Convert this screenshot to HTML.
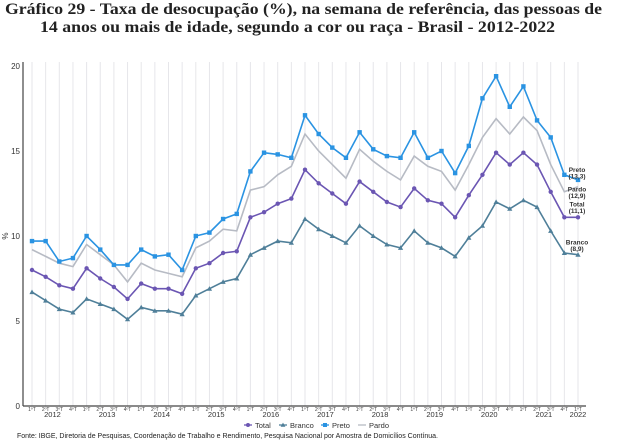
<!DOCTYPE html>
<html><head><meta charset="utf-8">
<style>
body{margin:0;background:#fff;width:635px;height:448px;overflow:hidden;font-family:"Liberation Sans",sans-serif}
</style></head><body>
<svg id="c" width="635" height="448" style="position:absolute;left:0;top:0">
<text x="5" y="14" textLength="597" lengthAdjust="spacingAndGlyphs" font-family="Liberation Serif, serif" font-weight="bold" font-size="16" fill="#222">Gráfico 29 - Taxa de desocupação (%), na semana de referência, das pessoas de</text>
<text x="40" y="32" textLength="515" lengthAdjust="spacingAndGlyphs" font-family="Liberation Serif, serif" font-weight="bold" font-size="16" fill="#222">14 anos ou mais de idade, segundo a cor ou raça - Brasil - 2012-2022</text>
</svg>
<script>
const years=["2012","2013","2014","2015","2016","2017","2018","2019","2020","2021","2022"];
const quarterLabels=["1ºT","2ºT","3ºT","4ºT"];
const yTicks=[0,5,10,15,20];
const total=[8.0,7.6,7.1,6.9,8.1,7.5,7.0,6.3,7.2,6.9,6.9,6.6,8.1,8.4,9.0,9.1,11.1,11.4,11.9,12.2,13.9,13.1,12.5,11.9,13.2,12.6,12.0,11.7,12.8,12.1,11.9,11.1,12.4,13.6,14.9,14.2,14.9,14.2,12.6,11.1,11.1];
const branco=[6.7,6.2,5.7,5.5,6.3,6.0,5.7,5.1,5.8,5.6,5.6,5.4,6.5,6.9,7.3,7.5,8.9,9.3,9.7,9.6,11.0,10.4,10.0,9.6,10.6,10.0,9.5,9.3,10.3,9.6,9.3,8.8,9.9,10.6,12.0,11.6,12.1,11.7,10.3,9.0,8.9];
const preto=[9.7,9.7,8.5,8.7,10.0,9.2,8.3,8.3,9.2,8.8,8.9,8.0,10.0,10.2,11.0,11.3,13.8,14.9,14.8,14.6,17.1,16.0,15.2,14.6,16.1,15.1,14.7,14.6,16.1,14.6,15.0,13.7,15.3,18.1,19.4,17.6,18.8,16.8,15.8,13.6,13.3];
const pardo=[9.2,8.8,8.4,8.2,9.5,8.9,8.3,7.3,8.4,8.0,7.8,7.6,9.3,9.7,10.4,10.3,12.7,12.9,13.6,14.1,16.0,15.0,14.2,13.4,15.1,14.4,13.8,13.3,14.7,14.1,13.8,12.7,14.2,15.8,16.9,16.0,17.0,16.2,14.2,12.6,12.9];

const svg=document.getElementById('c');const NS="http://www.w3.org/2000/svg";
function el(t,a,p){const e=document.createElementNS(NS,t);for(const k in a)e.setAttribute(k,a[k]);(p||svg).appendChild(e);return e;}
const x0=32,dx=13.65,yBase=406,ky=17;
const X=i=>x0+i*dx, Y=v=>yBase-v*ky;
const n=total.length;
for(let i=0;i<n;i++){const g=el('line',{x1:X(i),x2:X(i),y1:62,y2:yBase,stroke:'#e6e6ea','stroke-width':1});

}
const ya=el('line',{x1:23,x2:23,y1:62,y2:yBase,stroke:'#444','stroke-width':1.2});


const xa=el('line',{x1:23,x2:586,y1:yBase,y2:yBase,stroke:'#444','stroke-width':1.2});


yTicks.forEach(v=>{const t=el('text',{x:20,y:Y(v)+3,'text-anchor':'end','font-size':8,fill:'#333'});t.textContent=v;

});
const yt=el('text',{x:8,y:236,'text-anchor':'middle','font-size':8,fill:'#333',transform:'rotate(-90 8 236)'});yt.textContent='%';


for(let i=0;i<n;i++){const t=el('text',{x:X(i),y:411,'text-anchor':'middle','font-size':5,fill:'#444'});t.textContent=quarterLabels[i%4];

}
years.forEach((yr,k)=>{const i=k*4;const cx=(k<years.length-1)?(X(i+1)+X(i+2))/2:X(i);
const t=el('text',{x:cx,y:417,'text-anchor':'middle','font-size':7.5,fill:'#333'});t.textContent=yr;

});
function series(data,color,marker,name,w){
 const g=el('g',{});
 
 
 el('polyline',{points:data.map((v,i)=>X(i)+','+Y(v)).join(' '),fill:'none',stroke:color,'stroke-width':w||1.6},g);
 data.forEach((v,i)=>{let m;const cx=X(i),cy=Y(v);
  if(marker==='circle')m=el('circle',{cx:cx,cy:cy,r:2.2,fill:color},g);
  else if(marker==='square')m=el('rect',{x:cx-2.2,y:cy-2.2,width:4.4,height:4.4,fill:color},g);
  else if(marker==='tri')m=el('path',{d:`M${cx} ${cy-2.6}L${cx+2.6} ${cy+2}L${cx-2.6} ${cy+2}Z`,fill:color},g);
  else return;
  
  });
}
series(pardo,'#b7bbc4',null,'pardo',1.6);
series(branco,'#4f7f99','tri','branco');
series(total,'#6b56b3','circle','total');
series(preto,'#2a93e2','square','preto');
function endLabel(name,val,dy,dn){const xx=X(n-1)-1;
 const t=el('text',{x:xx,y:Y(val)+dy,'text-anchor':'middle','font-size':6.5,'font-weight':'bold',fill:'#333'});t.textContent=name;
 
 
 const t2=el('text',{x:xx,y:Y(val)+dy+6.5,'text-anchor':'middle','font-size':6.5,'font-weight':'bold',fill:'#333'});t2.textContent='('+val.toFixed(1).replace('.',',')+')';
 
 }
endLabel('Preto',preto[n-1],-8,'preto');
endLabel('Pardo',pardo[n-1],+5,'pardo');
endLabel('Total',total[n-1],-11,'total');
endLabel('Branco',branco[n-1],-10,'branco');
const leg=[['Total','#6b56b3','circle'],['Branco','#4f7f99','tri'],['Preto','#2a93e2','square'],['Pardo','#b7bbc4',null]];
const lx=[248,283,325,362];
leg.forEach((l,k)=>{const g=el('g',{});
 
 
 const x=lx[k],y=425;
 el('line',{x1:x-4,x2:x+4,y1:y,y2:y,stroke:l[1],'stroke-width':1.3},g);
 if(l[2]==='circle')el('circle',{cx:x,cy:y,r:2,fill:l[1]},g);
 if(l[2]==='tri')el('path',{d:`M${x} ${y-2.4}L${x+2.4} ${y+1.8}L${x-2.4} ${y+1.8}Z`,fill:l[1]},g);
 if(l[2]==='square')el('rect',{x:x-2,y:y-2,width:4,height:4,fill:l[1]},g);
 const t=el('text',{x:x+7,y:y+3,'font-size':7.5,fill:'#333'},g);t.textContent=l[0];});
const f=el('text',{x:17,y:438,'font-size':7,fill:'#222'});f.textContent='Fonte: IBGE, Diretoria de Pesquisas, Coordenação de Trabalho e Rendimento, Pesquisa Nacional por Amostra de Domicílios Contínua.';


</script>
</body></html>
